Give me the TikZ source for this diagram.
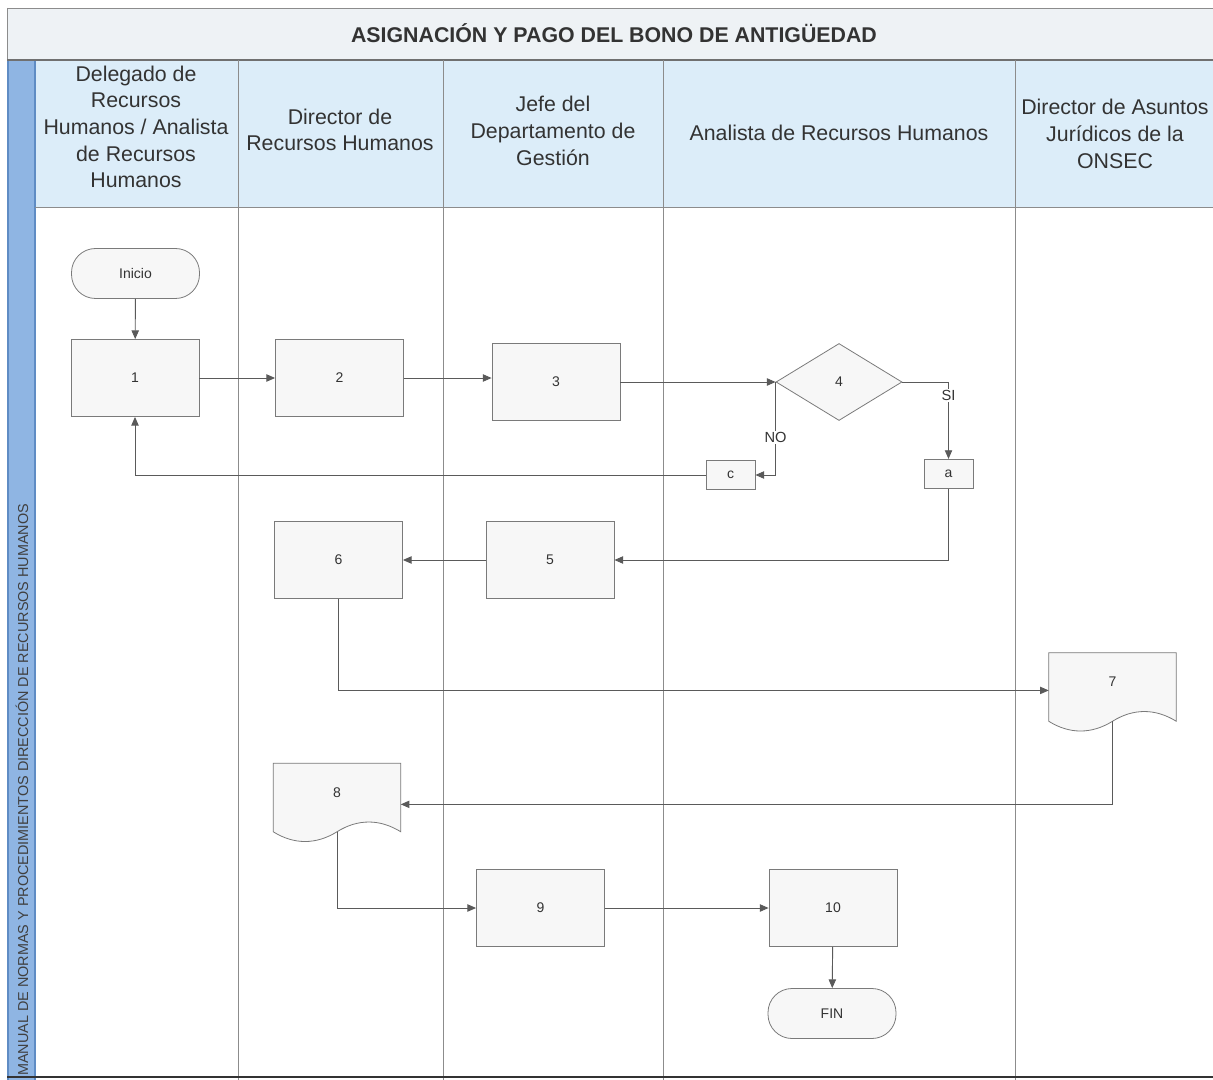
\documentclass[tikz,border=0pt]{standalone}
\usepackage{fontspec}
\setmainfont{Liberation Sans}
\usetikzlibrary{arrows.meta,shapes.geometric,calc,backgrounds}

\definecolor{titlefill}{HTML}{EEF2F5}
\definecolor{headfill}{HTML}{DCEDF9}
\definecolor{stripfill}{HTML}{8FB5E3}
\definecolor{stripedge}{HTML}{5F8CC4}
\definecolor{lanecol}{HTML}{8C8C8C}
\definecolor{nodeline}{HTML}{7A7A7A}
\definecolor{nodefill}{HTML}{F7F7F7}
\definecolor{flowcol}{HTML}{5A5A5A}
\definecolor{inkcol}{HTML}{333333}

% outline of a document symbol around a (frameless) node
\newcommand\docoutline[1]{%
  \draw[draw=nodeline, fill=nodefill, line width=0.6pt]
    (#1.south west) -- (#1.north west) -- (#1.north east) -- (#1.south east)
    .. controls ($(#1.south east)+(-21,-13)$) and ($(#1.south east)+(-43,-13)$) .. (#1.south)
    .. controls ($(#1.south)+(-21,13)$) and ($(#1.south)+(-43,13)$) .. (#1.south west) -- cycle;}

\begin{document}
\begin{tikzpicture}[x=0.75pt,y=-0.75pt,
  lane/.style={draw=lanecol, line width=0.6pt},
  head/.style={align=center, text=inkcol, font=\fontsize{16}{20}\selectfont},
  proc/.style={draw=nodeline, fill=nodefill, line width=0.6pt, minimum width=96pt,
    minimum height=57.75pt, inner sep=0pt, text=inkcol, font=\fontsize{10.5}{12}\selectfont},
  term/.style={proc, minimum height=37.5pt, rounded corners=18pt},
  decision/.style={diamond, draw=nodeline, fill=nodefill, line width=0.6pt,
    minimum width=94.5pt, minimum height=57.75pt, inner sep=0pt, text=inkcol,
    font=\fontsize{10.5}{12}\selectfont},
  offpage/.style={proc, minimum width=36.75pt, minimum height=22pt},
  docbox/.style={minimum width=95.25pt, minimum height=51pt, inner sep=0pt,
    text depth=7.5pt, text=inkcol, font=\fontsize{10.5}{12}\selectfont},
  flow/.style={draw=flowcol, line width=0.7pt, -{Triangle[length=6.5pt,width=5.5pt]}},
  lbl/.style={fill=white, inner sep=1pt, text=inkcol, font=\fontsize{11}{13}\selectfont}]

\useasboundingbox (0,0) rectangle (1213,1080);
\clip (0,0) rectangle (1213,1080);

% title band, header row and side strip
\fill[titlefill] (7,8) rectangle (1213,60);
\fill[headfill] (35,60) rectangle (1213,207);
\fill[stripfill] (7,60) rectangle (35,1080);
\draw[stripedge, line width=1pt] (8,60) -- (8,1080) (35,60) -- (35,1080);
\draw[lane] (7,8) -- (1213,8) (7,8) -- (7,60);
\draw[draw=lanecol!80!black, line width=0.9pt] (7,60) -- (1213,60);
\draw[lane] (35,207) -- (1213,207);
\foreach \lx in {238,443,663,1015} \draw[lane] (\lx,60) -- (\lx,1080);
\draw[draw=black!80, line width=1.2pt] (7,1077) -- (1213,1077);

\node[text=inkcol, font=\bfseries\fontsize{16}{19}\selectfont] (title) at (614,33)
  {ASIGNACIÓN Y PAGO DEL BONO DE ANTIGÜEDAD};
\node[rotate=90, anchor=west, inner sep=0pt, text=black!75, font=\fontsize{10.8}{13}\selectfont]
  (side) at (22,1076) {MANUAL DE NORMAS Y PROCEDIMIENTOS DIRECCIÓN DE RECURSOS HUMANOS};

% lane headings
\node[head] (h1) at (136,127) {Delegado de\\Recursos\\Humanos / Analista\\de Recursos\\Humanos};
\node[head] (h2) at (340,130) {Director de\\Recursos Humanos};
\node[head] (h3) at (553,131) {Jefe del\\Departamento de\\Gestión};
\node[head] (h4) at (839,133) {Analista de Recursos Humanos};
\node[head] (h5) at (1115,134) {Director de Asuntos\\Jurídicos de la\\ONSEC};

% steps
\node[term] (ini) at (135.5,273.5) {Inicio};
\node[proc] (p1) at (135,378) {1};
\node[proc] (p2) at (339.5,378) {2};
\node[proc] (p3) at (556,382) {3};
\node[decision] (d4) at (839,382) {4};
\node[offpage] (cc) at (730.5,475) {c};
\node[offpage] (ca) at (948.5,474) {a};
\node[proc] (p5) at (550,560) {5};
\node[proc] (p6) at (338.5,560) {6};
\node[docbox] (d7) at (1112.5,687) {7};
\node[docbox] (d8) at (337,797.5) {8};
\node[proc] (p9) at (540.5,908) {9};
\node[proc] (p10) at (833,908) {10};
\node[term] (fin) at (832,1013.5) {FIN};

\begin{scope}[on background layer]
  \docoutline{d7}
  \docoutline{d8}
\end{scope}

% connectors
\draw[flow] (ini) -- (p1);
\draw[flow] (p1) -- (p2);
\draw[flow] (p2.east) -- (p2.east -| p3.west);
\draw[flow] (p3) -- (d4.west);
\draw[flow] (d4.west) |- node[lbl, pos=0.3] (no) {NO} (cc.east);
\draw[flow] (d4.east) -| node[lbl, pos=0.59] (si) {SI} (ca.north);
\draw[flow] (cc.west) -| (p1.south);
\draw[flow] (ca.south) |- (p5.east);
\draw[flow] (p5) -- (p6);
\draw[flow] (p6.south) |- ($(d7.north west)!0.55!(d7.south west)$);
\draw[flow] (d7.south) |- ($(d8.north east)!0.6!(d8.south east)$);
\draw[flow] (d8.south) |- (p9.west);
\draw[flow] (p9) -- (p10);
\draw[flow] (p10) -- (fin);
\end{tikzpicture}
\end{document}
